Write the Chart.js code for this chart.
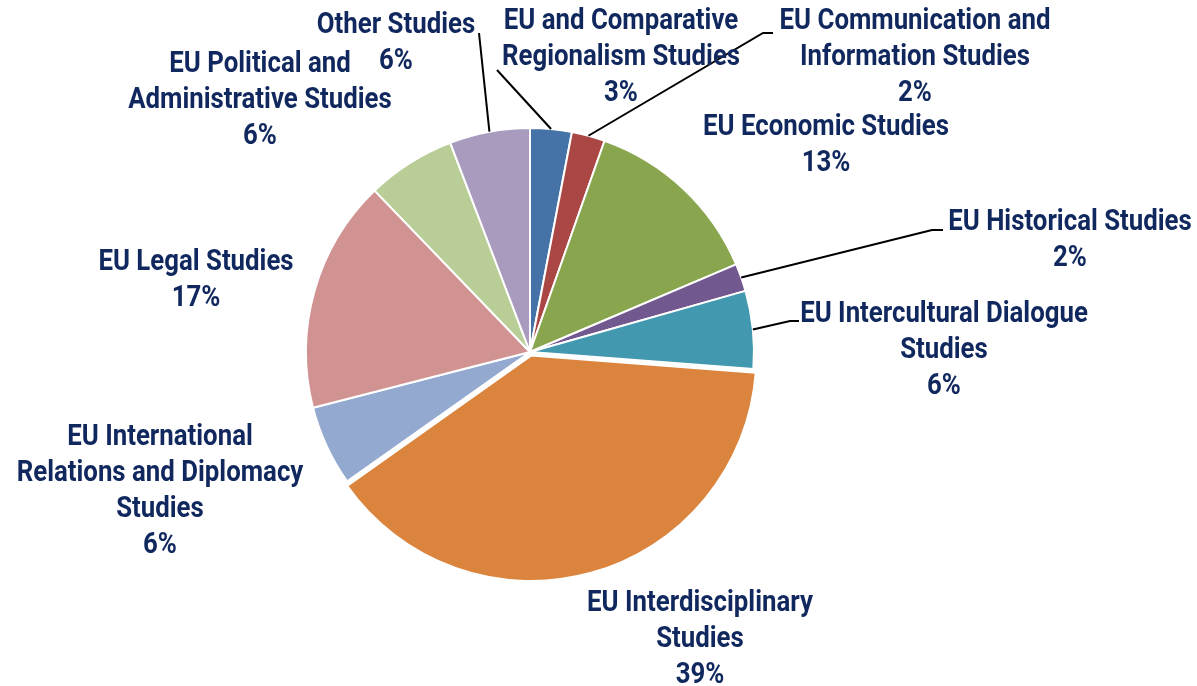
<!DOCTYPE html>
<html>
<head>
<meta charset="utf-8">
<script src="https://cdn.jsdelivr.net/npm/chart.js@4.4.1/dist/chart.umd.min.js"></script>
<style>
  html, body { margin: 0; padding: 0; background: #ffffff; }
  #wrap { position: relative; width: 1197px; height: 686px; }
</style>
</head>
<body>
<div id="wrap"><canvas id="c"></canvas></div>
<script>
// ---- Data ----
const categories = [
  'EU and Comparative Regionalism Studies',
  'EU Communication and Information Studies',
  'EU Economic Studies',
  'EU Historical Studies',
  'EU Intercultural Dialogue Studies',
  'EU Interdisciplinary Studies',
  'EU International Relations and Diplomacy Studies',
  'EU Legal Studies',
  'EU Political and Administrative Studies',
  'Other Studies'
];
const shares = [3.0, 2.4, 13.2, 2.0, 5.6, 39.0, 5.8, 16.8, 6.4, 5.8];

// ---- Styles ----
const sliceColors = ['#4572A7', '#AA4643', '#89A54E', '#71588F', '#4198AF',
                     '#DB843D', '#93A9CF', '#D19392', '#B9CD96', '#A99BBD'];
const sliceOffsets = [0, 0, 0, 0, 0, 15, 0, 0, 0, 0];
const textColor = '#10285E';
const labelFont = 'bold 30px Roboto, "Liberation Sans", sans-serif';
const textScaleX = 0.86;
const lineGap = 36;

// label layout: line breaks, block position (offset from pie centre; x = block centre, y = first baseline),
// optional leader line attach point and elbow length
const labelLayout = [
  { lines: ['EU and Comparative', 'Regionalism Studies'], dx: 91, dy: -323, attach: [-33, -282], elbow: 0 },
  { lines: ['EU Communication and', 'Information Studies'], dx: 385, dy: -323, attach: [243, -319], elbow: 10 },
  { lines: ['EU Economic Studies'], dx: 296, dy: -217 },
  { lines: ['EU Historical Studies'], dx: 540, dy: -122, attach: [413, -122], elbow: 11 },
  { lines: ['EU Intercultural Dialogue', 'Studies'], dx: 414, dy: -30, attach: [269, -31], elbow: 9 },
  { lines: ['EU Interdisciplinary', 'Studies'], dx: 170, dy: 259 },
  { lines: ['EU International', 'Relations and Diplomacy', 'Studies'], dx: -370, dy: 93 },
  { lines: ['EU Legal Studies'], dx: -334, dy: -82 },
  { lines: ['EU Political and', 'Administrative Studies'], dx: -270, dy: -280 },
  { lines: ['Other Studies'], dx: -134, dy: -319, attach: [-51, -319], elbow: 0 }
];

const labelPlugin = {
  id: 'pieLabels',
  afterDatasetsDraw(chart) {
    const ctx = chart.ctx;
    const meta = chart.getDatasetMeta(0);
    const total = shares.reduce((a, b) => a + b, 0);
    ctx.save();
    // leader lines
    ctx.strokeStyle = '#000000';
    ctx.lineWidth = 2;
    meta.data.forEach((arc, i) => {
      const L = labelLayout[i];
      if (!L.attach) return;
      const p = arc.getProps(['x', 'y', 'startAngle', 'endAngle', 'outerRadius'], true);
      const mid = (p.startAngle + p.endAngle) / 2;
      const ex = p.x + Math.cos(mid) * p.outerRadius;
      const ey = p.y + Math.sin(mid) * p.outerRadius;
      const ax = p.x + L.attach[0], ay = p.y + L.attach[1];
      ctx.beginPath();
      ctx.moveTo(ax, ay);
      if (L.elbow) ctx.lineTo(ax - L.elbow, ay);
      ctx.lineTo(ex, ey);
      ctx.stroke();
    });
    // texts
    ctx.fillStyle = textColor;
    ctx.font = labelFont;
    ctx.textAlign = 'center';
    ctx.textBaseline = 'alphabetic';
    meta.data.forEach((arc, i) => {
      const L = labelLayout[i];
      const p = arc.getProps(['x', 'y'], true);
      const pct = Math.round(shares[i] / total * 100) + '%';
      const lines = L.lines.concat([pct]);
      lines.forEach((t, k) => {
        ctx.save();
        ctx.translate(p.x + L.dx, p.y + L.dy + k * lineGap);
        ctx.scale(textScaleX, 1);
        ctx.fillText(t, 0, 0);
        ctx.restore();
      });
    });
    ctx.restore();
  }
};

new Chart(document.getElementById('c'), {
  type: 'pie',
  data: {
    labels: categories,
    datasets: [{
      data: shares,
      backgroundColor: sliceColors,
      borderColor: '#ffffff',
      borderWidth: 2,
      offset: sliceOffsets
    }]
  },
  options: {
    responsive: true,
    maintainAspectRatio: false,
    animation: false,
    radius: 224,
    layout: { padding: { top: 124, bottom: 106, left: 200, right: 337 } },
    plugins: {
      legend: { display: false },
      tooltip: { enabled: false }
    }
  },
  plugins: [labelPlugin]
});
</script>
</body>
</html>
